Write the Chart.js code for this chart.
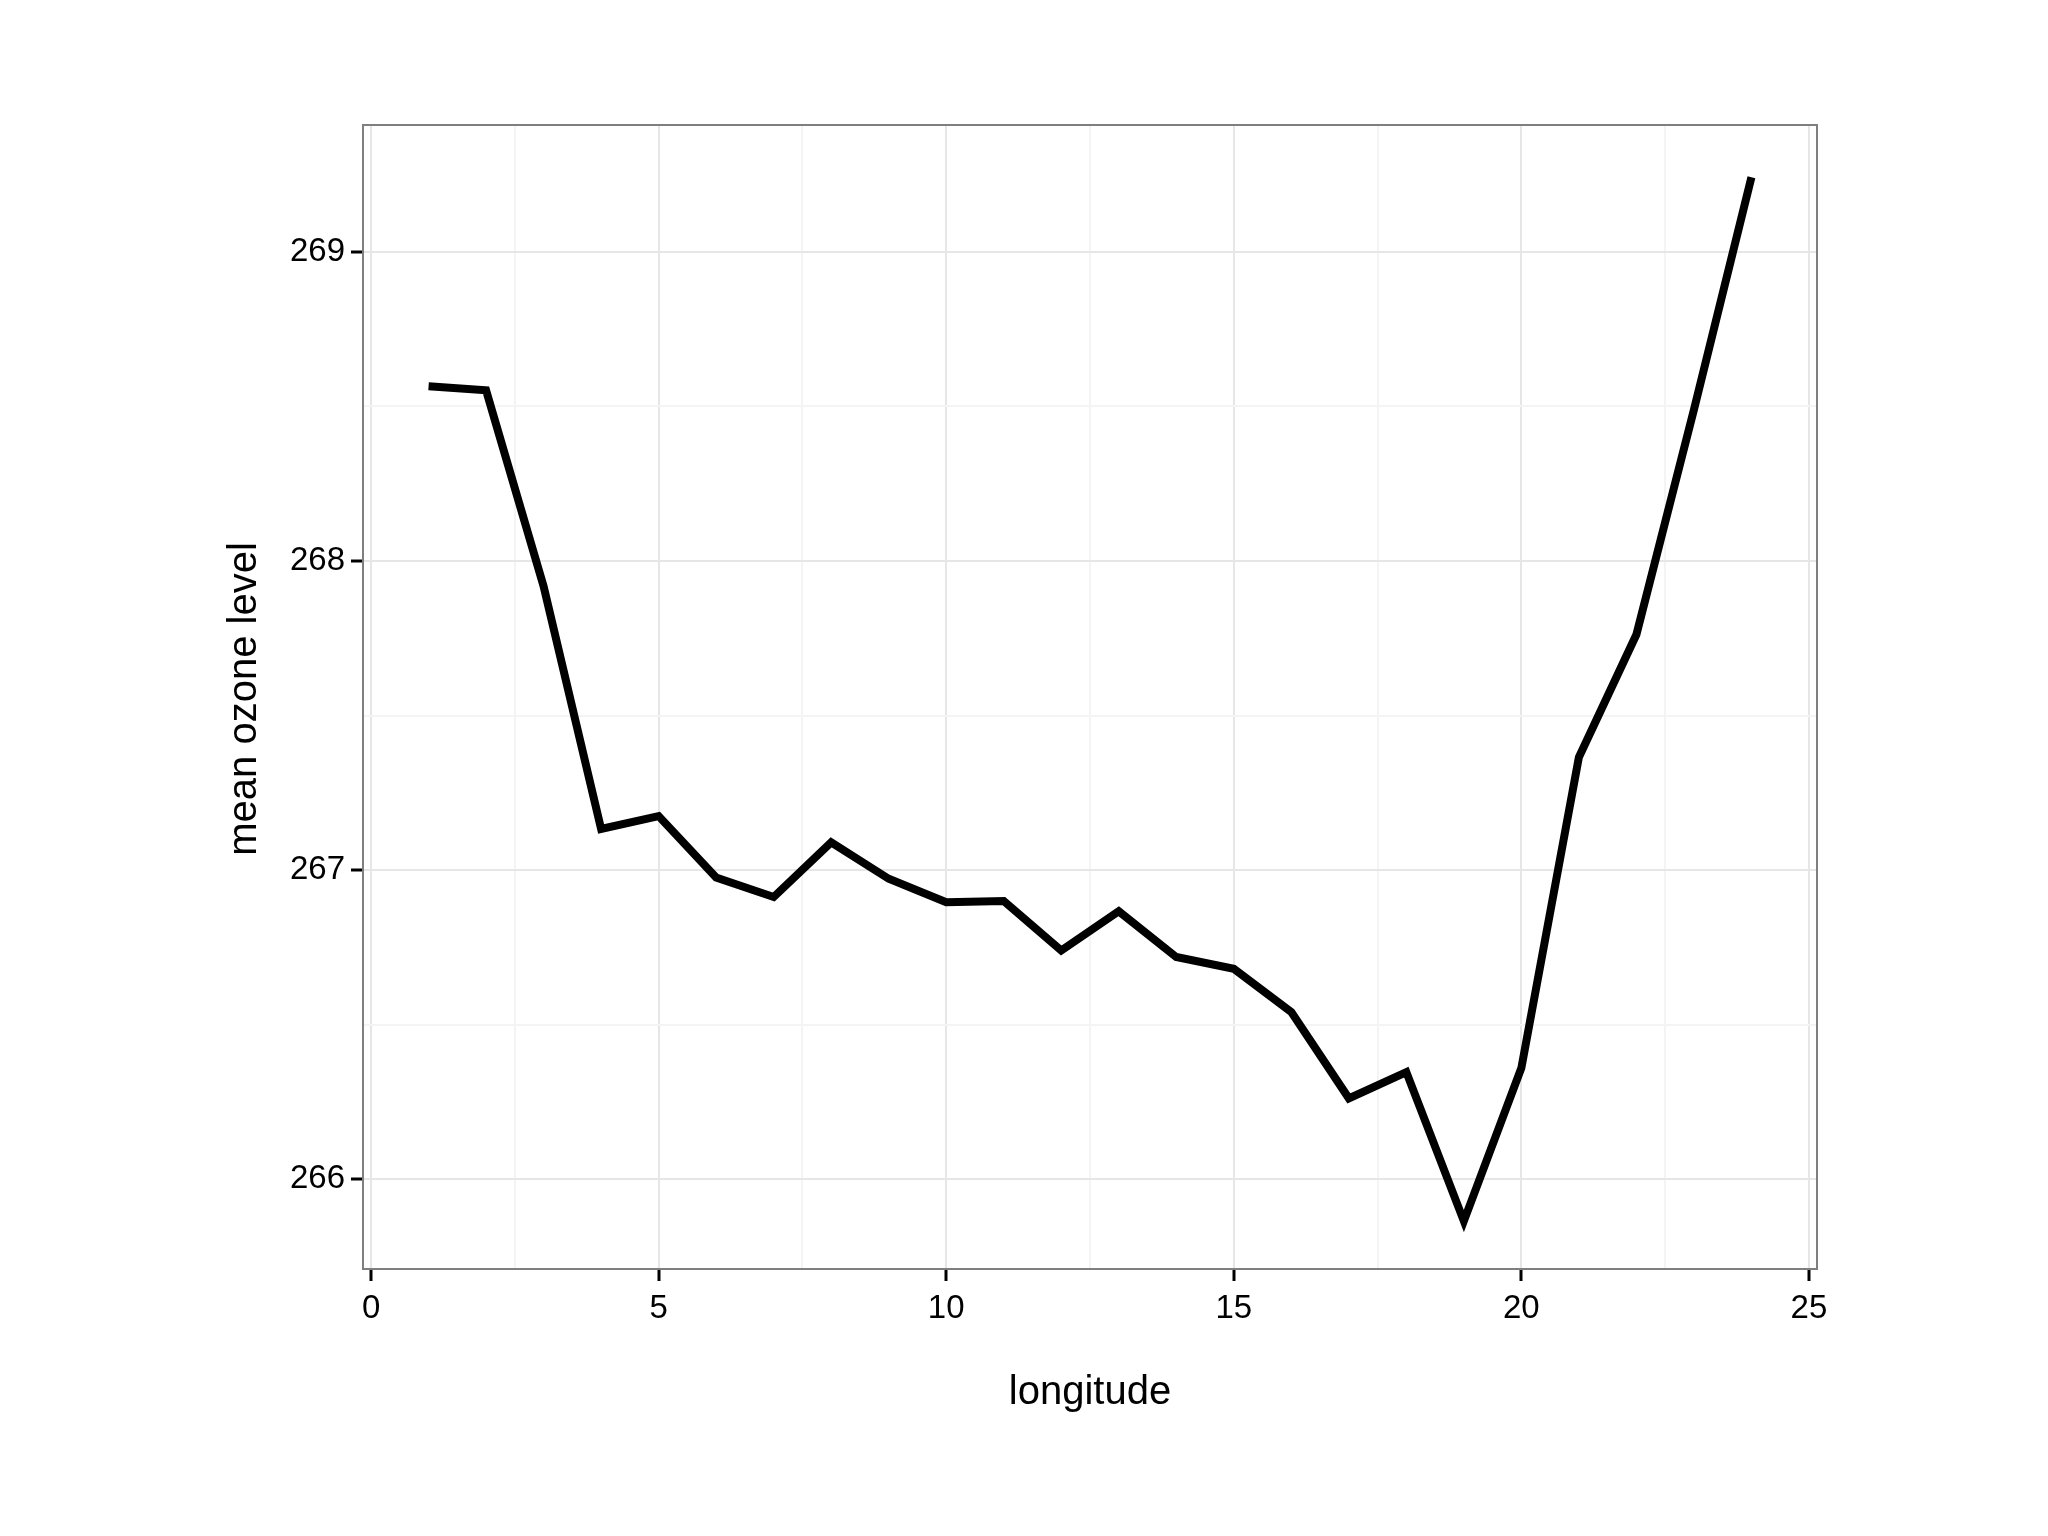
<!DOCTYPE html>
<html>
<head>
<meta charset="utf-8">
<script src="https://cdn.jsdelivr.net/npm/chart.js@4.4.1/dist/chart.umd.min.js"></script>
<style>body{margin:0;background:#fff}</style>
</head>
<body>
<canvas id="c" width="2048" height="1536"></canvas>
<script>
const longitude = [1,2,3,4,5,6,7,8,9,10,11,12,13,14,15,16,17,18,19,20,21,22,23,24];
const ozone = [268.565,268.552,267.918,267.133,267.175,266.976,266.913,267.090,266.972,266.896,266.900,266.740,
  266.867,266.719,266.681,266.541,266.262,266.347,265.865,266.360,267.365,267.762,268.489,269.241];
const xTicks = [0,5,10,15,20,25];
const yTicks = [266,267,268,269];
const xTitle = "longitude";
const yTitle = "mean ozone level";

const isMajor = (v, list) => list.some(t => Math.abs(t - v) < 1e-6);

// frame around the panel and axis titles placed like ggplot
const frame = {
  id: "frame",
  afterDraw(chart) {
    const a = chart.chartArea, ctx = chart.ctx;
    ctx.save();
    ctx.strokeStyle = "#7f7f7f";
    ctx.lineWidth = 2;
    ctx.strokeRect(a.left, a.top, a.right - a.left, a.bottom - a.top);
    ctx.fillStyle = "#000";
    ctx.font = "40px 'Liberation Sans'";
    ctx.textAlign = "center";
    ctx.textBaseline = "middle";
    ctx.fillText(xTitle, (a.left + a.right) / 2, 1393);
    ctx.translate(245, 699);
    ctx.rotate(-Math.PI / 2);
    ctx.fillText(yTitle, 0, 0);
    ctx.restore();
  }
};

new Chart(document.getElementById("c"), {
  type: "line",
  data: {
    datasets: [{
      data: longitude.map((x, i) => ({ x: x, y: ozone[i] })),
      borderColor: "#000",
      borderWidth: 8,
      pointRadius: 0,
      tension: 0,
      fill: false
    }]
  },
  options: {
    responsive: false,
    animation: false,
    layout: { padding: { left: 0, top: 125, right: 231, bottom: 0 } },
    plugins: { legend: { display: false }, tooltip: { enabled: false } },
    scales: {
      x: {
        type: "linear",
        min: -0.14, max: 25.14,
        afterBuildTicks: s => { s.ticks = [0,2.5,5,7.5,10,12.5,15,17.5,20,22.5,25].map(v => ({ value: v })); },
        afterFit: s => { s.height = 1536 - 1269; },
        border: { display: false },
        grid: {
          color: c => isMajor(c.tick.value, xTicks) ? "#e6e6e6" : "#f4f4f4",
          lineWidth: 2,
          tickColor: c => isMajor(c.tick.value, xTicks) ? "#000" : "rgba(0,0,0,0)",
          tickLength: 12,
          tickWidth: 3
        },
        ticks: {
          color: "#000",
          font: { family: "Liberation Sans", size: 33 },
          padding: 8,
          callback: v => isMajor(v, xTicks) ? String(v) : ""
        }
      },
      y: {
        min: 265.71, max: 269.41,
        afterBuildTicks: s => { s.ticks = [266,266.5,267,267.5,268,268.5,269].map(v => ({ value: v })); },
        afterFit: s => { s.width = 363; },
        border: { display: false },
        grid: {
          color: c => isMajor(c.tick.value, yTicks) ? "#e6e6e6" : "#f4f4f4",
          lineWidth: 2,
          tickColor: c => isMajor(c.tick.value, yTicks) ? "#000" : "rgba(0,0,0,0)",
          tickLength: 12,
          tickWidth: 3
        },
        ticks: {
          color: "#000",
          font: { family: "Liberation Sans", size: 33 },
          padding: 6,
          callback: v => isMajor(v, yTicks) ? String(v) : ""
        }
      }
    }
  },
  plugins: [frame]
});
</script>
</body>
</html>
